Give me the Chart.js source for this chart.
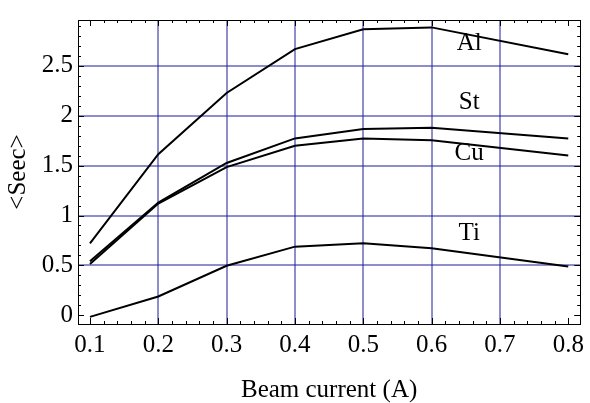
<!DOCTYPE html>
<html>
<head>
<meta charset="utf-8">
<script src="https://cdn.jsdelivr.net/npm/chart.js@4.4.1/dist/chart.umd.min.js"></script>
<style>
  html, body { margin: 0; padding: 0; background: #fff; }
  #wrap { width: 590px; height: 403px; }
</style>
</head>
<body>
<div id="wrap"><canvas id="seec"></canvas></div>
<script>
'use strict';

/* ── data ── */
const CURRENT = [0.1, 0.2, 0.3, 0.4, 0.5, 0.6, 0.8];
const AL = [0.72, 1.615, 2.228, 2.668, 2.867, 2.886, 2.617];
const ST = [0.542, 1.13, 1.527, 1.773, 1.868, 1.88, 1.773];
const CU = [0.513, 1.12, 1.485, 1.70, 1.773, 1.754, 1.602];
const TI = [-0.016, 0.188, 0.496, 0.688, 0.723, 0.671, 0.489];

const NAMES   = ['Al', 'St', 'Cu', 'Ti'];
const LABEL_X = 0.655;
const LABEL_Y = [2.73, 2.13, 1.625, 0.82];

const X_TICKS = [0.1, 0.2, 0.3, 0.4, 0.5, 0.6, 0.7, 0.8];
const Y_TICKS = [0, 0.5, 1, 1.5, 2, 2.5];
const X_GRID  = [0.2, 0.3, 0.4, 0.5, 0.6, 0.7];
const Y_GRID  = [0.5, 1, 1.5, 2, 2.5];
const X_MINOR = [0.12,0.14,0.16,0.18,0.22,0.24,0.26,0.28,0.32,0.34,0.36,0.38,0.42,0.44,0.46,0.48,
                 0.52,0.54,0.56,0.58,0.62,0.64,0.66,0.68,0.72,0.74,0.76,0.78];
const Y_MINOR = [0.1,0.2,0.3,0.4,0.6,0.7,0.8,0.9,1.1,1.2,1.3,1.4,1.6,1.7,1.8,1.9,
                 2.1,2.2,2.3,2.4,2.6,2.7,2.8,2.9];

const GRID_BLUE = '#1c1c9c';
const SERIF = "'Liberation Serif', 'Times New Roman', serif";
const FONT_PX = 25;

Chart.defaults.font.family = SERIF;
Chart.defaults.font.size   = FONT_PX;
Chart.defaults.color       = '#000';

function pts(ys) { return CURRENT.map((x, i) => ({ x, y: ys[i] })); }
const crisp = v => Math.round(v) + 0.5;

/* blue grid under the curves (soft 2px, like the original rasterised lines) */
const gridPlugin = {
  id: 'blueGrid',
  beforeDatasetsDraw(chart) {
    const { ctx, chartArea: a, scales: { x, y } } = chart;
    ctx.save();
    ctx.strokeStyle = GRID_BLUE;
    ctx.lineWidth = 1;
    ctx.beginPath();
    X_GRID.forEach(v => {
      const px = Math.round(x.getPixelForValue(v));
      ctx.moveTo(px, a.top); ctx.lineTo(px, a.bottom);
    });
    Y_GRID.forEach(v => {
      const py = Math.round(y.getPixelForValue(v));
      ctx.moveTo(a.left, py); ctx.lineTo(a.right, py);
    });
    ctx.stroke();
    ctx.restore();
  }
};

/* frame with inward ticks on all four sides, plus series labels */
const framePlugin = {
  id: 'frame',
  afterDatasetsDraw(chart) {
    const { ctx, chartArea: a, scales: { x, y } } = chart;
    ctx.save();
    ctx.strokeStyle = '#000';
    ctx.lineWidth = 1;
    ctx.beginPath();
    const tickX = (v, len) => {
      const px = crisp(x.getPixelForValue(v));
      ctx.moveTo(px, a.bottom); ctx.lineTo(px, a.bottom - len);
      ctx.moveTo(px, a.top);    ctx.lineTo(px, a.top + len);
    };
    const tickY = (v, len) => {
      const py = crisp(y.getPixelForValue(v));
      ctx.moveTo(a.left, py);  ctx.lineTo(a.left + len, py);
      ctx.moveTo(a.right, py); ctx.lineTo(a.right - len, py);
    };
    X_TICKS.forEach(v => tickX(v, 6));
    X_MINOR.forEach(v => tickX(v, 3));
    Y_TICKS.forEach(v => tickY(v, 6));
    Y_MINOR.forEach(v => tickY(v, 3));
    ctx.stroke();
    ctx.strokeRect(crisp(a.left), crisp(a.top),
                   Math.round(a.right - a.left), Math.round(a.bottom - a.top));

    ctx.fillStyle = '#000';
    ctx.font = FONT_PX + 'px ' + SERIF;
    ctx.textAlign = 'center';
    ctx.textBaseline = 'middle';
    NAMES.forEach((n, i) => {
      ctx.fillText(n, x.getPixelForValue(LABEL_X), y.getPixelForValue(LABEL_Y[i]));
    });
    ctx.restore();
  }
};

const line = (label, ys) => ({
  label, data: pts(ys), showLine: true,
  borderColor: '#000', borderWidth: 2, pointRadius: 0, tension: 0
});

new Chart(document.getElementById('seec'), {
  type: 'scatter',
  data: { datasets: [line('Al', AL), line('St', ST), line('Cu', CU), line('Ti', TI)] },
  options: {
    responsive: true,
    maintainAspectRatio: false,
    animation: false,
    layout: { padding: { top: 11, right: 5, left: 0, bottom: 0 } },
    plugins: { legend: { display: false }, tooltip: { enabled: false } },
    scales: {
      x: {
        type: 'linear', min: 0.0825, max: 0.8175,
        afterBuildTicks: s => { s.ticks = X_TICKS.map(v => ({ value: v })); },
        afterFit: s => { s.height = 79; },
        grid: { display: false, drawTicks: false },
        border: { display: false },
        ticks: { padding: 6, maxRotation: 0, callback: v => String(v) },
        title: { display: true, text: 'Beam current (A)', font: { size: FONT_PX, lineHeight: 1 }, padding: { top: 0, bottom: 0 } }
      },
      y: {
        type: 'linear', min: -0.0875, max: 2.96,
        afterBuildTicks: s => { s.ticks = Y_TICKS.map(v => ({ value: v })); },
        afterFit: s => { s.width = 78; },
        grid: { display: false, drawTicks: false },
        border: { display: false },
        ticks: { padding: 5, callback: v => String(v) },
        title: { display: true, text: '<Seec>', font: { size: FONT_PX, lineHeight: 1 }, padding: { top: 6, bottom: 0 } }
      }
    }
  },
  plugins: [gridPlugin, framePlugin]
});
</script>
</body>
</html>
